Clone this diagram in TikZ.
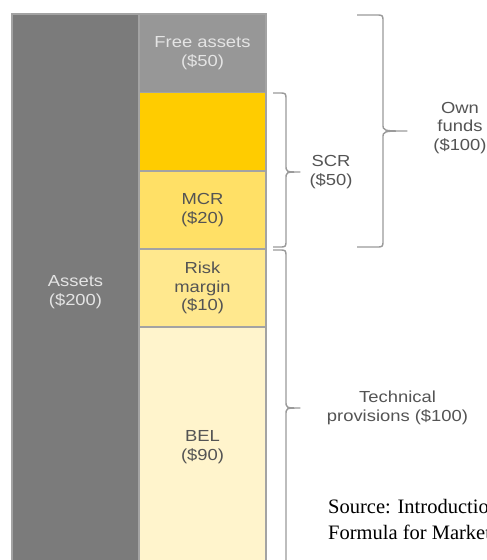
\documentclass[tikz,border=0pt]{standalone}
\usepackage{fontspec}
\newfontfamily\lab[FakeStretch=1.15]{Liberation Sans}
\newfontfamily\srcfont{Liberation Serif}
\definecolor{assetgray}{HTML}{7B7B7B}
\definecolor{freegray}{HTML}{979797}
\definecolor{scryellow}{HTML}{FFCC00}
\definecolor{mcryellow}{HTML}{FFE066}
\definecolor{rmyellow}{HTML}{FFE88E}
\definecolor{belyellow}{HTML}{FFF4CC}
\definecolor{edgegray}{HTML}{A3A3A3}
\definecolor{txtdark}{HTML}{545454}
\definecolor{txtlight}{HTML}{E4E4E4}
\definecolor{bracegray}{HTML}{9A9A9A}
\tikzset{
  blk/.style={draw=edgegray, line width=1.3pt, anchor=north west, inner sep=0pt, outer sep=0pt,
    minimum width=127pt, align=center, font=\lab\fontsize{16}{18.5}\selectfont, text=txtdark},
  lbl/.style={align=center, inner sep=0pt, font=\lab\fontsize{16}{18.5}\selectfont, text=txtdark},
  bracestyle/.style={draw=bracegray, line width=1.4pt, line join=round}
}
% x0, ytop, ybot, xline, xtip, ymid
\newcommand{\mybrace}[6]{%
  \draw[bracestyle] (#1,#2) -- ({#4-7},#2) .. controls (#4,#2) .. (#4,{#2+7})
    -- (#4,{#6-7}) .. controls (#4,#6) .. (#5,#6) .. controls (#4,#6) .. (#4,{#6+7})
    -- (#4,{#3-7}) .. controls (#4,#3) .. ({#4-7},#3) -- (#1,#3);}
\begin{document}
\begin{tikzpicture}[x=1pt,y=-1pt]
\useasboundingbox (0,0) rectangle (487,560);
\clip (0,0) rectangle (487,560);
\fill[white] (0,0) rectangle (487,560);
% assets column
\node[blk, fill=assetgray, minimum height=556pt, text=txtlight] (assets) at (12,14) {Assets\\(\$200)};
% right column
\node[blk, fill=freegray, minimum height=78.7pt, text=txtlight] (free) at (139,14) {Free assets\\(\$50)};
\node[blk, fill=scryellow, minimum height=78.3pt] (scr) at (139,92.7) {};
\node[blk, fill=mcryellow, minimum height=78pt] (mcr) at (139,171) {MCR\\(\$20)};
\node[blk, fill=rmyellow, minimum height=78pt] (rm) at (139,249) {Risk\\margin\\(\$10)};
\node[blk, fill=belyellow, minimum height=243pt] (bel) at (139,327) {};
\node[lbl] (beltext) at (202.5,447) {BEL\\(\$90)};
% braces
\mybrace{357}{15}{247}{383}{407}{131}
\mybrace{273}{93}{247}{286}{300}{172}
\mybrace{273}{250}{566}{286}{300}{408}
% labels
\node[lbl] (scrlbl) at (331,172) {SCR\\(\$50)};
\node[lbl] (ownlbl) at (460,128) {Own\\funds\\(\$100)};
\node[lbl] (tplbl) at (397.5,408) {Technical\\provisions (\$100)};
% source
\node[anchor=base west, inner sep=0pt, font=\srcfont\fontsize{20.5}{26}\selectfont, text=black] (src1) at (328,513) {Source: Introduction};
\node[anchor=base west, inner sep=0pt, font=\srcfont\fontsize{20.5}{26}\selectfont, text=black] (src2) at (328,539) {Formula for Market};
\end{tikzpicture}
\end{document}
